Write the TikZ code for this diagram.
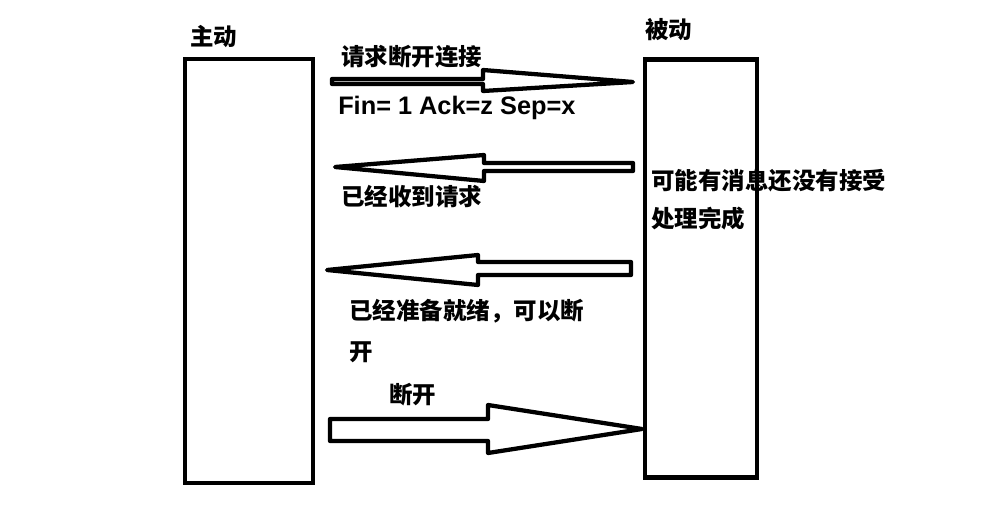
\documentclass[tikz,border=0pt]{standalone}
\usepackage{fontspec}
\usepackage{tikz}
\newfontfamily\cjk{Noto Sans CJK SC}
\newfontfamily\latn{Liberation Sans}

\begin{document}
\begin{tikzpicture}[
		x=0.75pt, y=-0.75pt,
		box/.style={rectangle, draw, line width=3.6pt, inner sep=0pt},
		fatarrow/.style={draw, line width=3.2pt, line join=round, fill=white},
		txt/.style={anchor=west, inner sep=0pt, font=\cjk\bfseries\fontsize{17.6}{20}\selectfont}
	]
  \useasboundingbox (0,0) rectangle (1008,521);
  \node (active) [box, minimum width=96pt, minimum height=318pt] at (249,271) {};
  \node (passive) [box, minimum width=84pt, minimum height=314pt] at (701,268.5) {};
  \node (active_label) [txt] at (190,37) {主动};
  \node (passive_label) [txt] at (645,30) {被动};
  % request close
  \draw [fatarrow] (332,79) -- (483,79) -- (483,70) -- (633,82) -- (483,91) -- (483,84) -- (332,84) -- cycle;
  \node (fin_label) [txt] at (341,57) {请求断开连接};
  \node (fin_flags) [txt, font=\latn\bfseries\fontsize{19}{20}\selectfont] at (338,108) {Fin= 1 Ack=z Sep=x};
  % ack
  \draw [fatarrow] (633,163) -- (484,163) -- (484,155) -- (335,167) -- (484,181) -- (484,171) -- (633,171) -- cycle;
  \node (ack_label) [txt] at (341,197) {已经收到请求};
  \node (wait_label) [txt] at (651,181) {可能有消息还没有接受};
  \node (wait_label2) [txt] at (651,219) {处理完成};
  % ready
  \draw [fatarrow] (631,262) -- (478,262) -- (478,255) -- (327,270) -- (478,285) -- (478,275) -- (631,275) -- cycle;
  \node (ready_label) [txt] at (349,311) {已经准备就绪，可以断};
  \node (ready_label2) [txt] at (349,352) {开};
  % close
  \draw [fatarrow] (330,419) -- (488,419) -- (488,405) -- (642,429) -- (488,453) -- (488,441) -- (330,441) -- cycle;
  \node (close_label) [txt] at (389,395) {断开};
\end{tikzpicture}
\end{document}
